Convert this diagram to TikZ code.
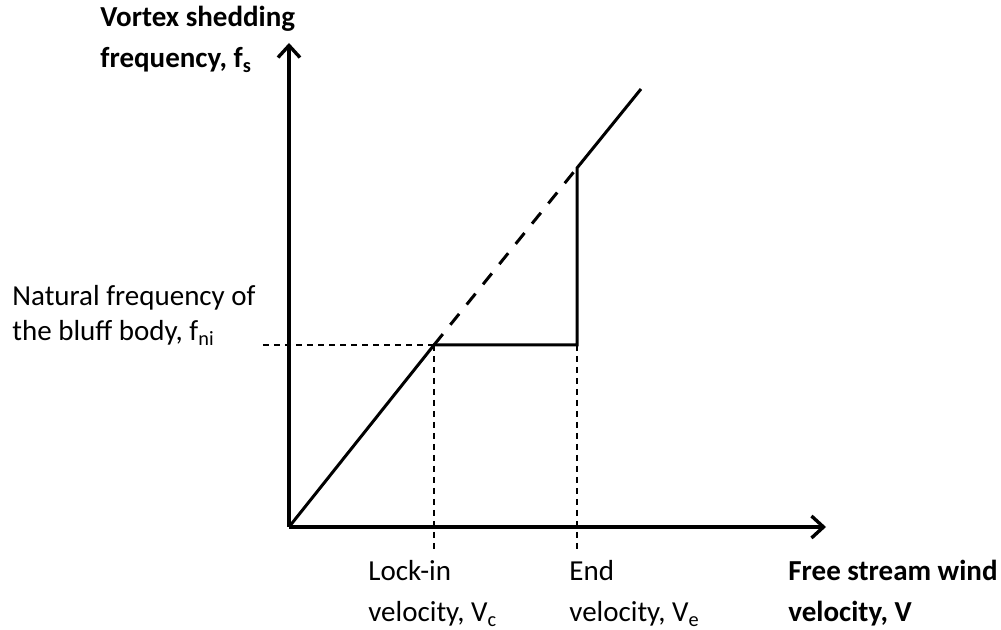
\documentclass[tikz,border=0pt]{standalone}
\usepackage{fontspec}
\setmainfont{Carlito}
\usetikzlibrary{arrows.meta}

\tikzset{
  axis/.style={line width=1.7pt,-{Straight Barb[length=6pt,width=11pt]}},
  curve/.style={line width=1.5pt,line join=miter},
  guide/.style={line width=0.7pt,dash pattern=on 3pt off 2.5pt},
  label/.style={anchor=base west,align=left,inner sep=0pt,
    font=\fontsize{14.5}{20.5}\selectfont},
  boldlabel/.style={label,font=\fontsize{14.5}{20.5}\selectfont\bfseries}
}

\begin{document}
\begin{tikzpicture}[x=0.5pt,y=0.5pt]
\useasboundingbox[fill=white] (-289,-103) rectangle (712,527);

\coordinate (O) at (0,0);
\coordinate (ytip) at (0,484);
\coordinate (xtip) at (537,0);
\coordinate (lockin) at (145,182);
\coordinate (endv) at (288,182);
\coordinate (jump) at (288,359);
\coordinate (top) at (352,438);
\coordinate (fni) at (-26,182);
\coordinate (vc) at (145,-25);
\coordinate (ve) at (288,-25);

\draw[guide] (fni) -- (lockin);
\draw[guide] (lockin) -- (vc);
\draw[guide] (endv) -- (ve);

\draw[axis] (O) -- (ytip);
\draw[axis] (O) -- (xtip);

\draw[curve] (O) -- (lockin) -- (endv) -- (jump) -- (top);
\draw[curve,dash pattern=on 7pt off 6pt] (lockin) -- (jump);

\node[boldlabel] (ylabel) at (-189,459) {Vortex shedding\\frequency, f\textsubscript{s}};
\node[label,font=\fontsize{14.5}{17.5}\selectfont] (natlabel) at (-277,186) {Natural frequency of\\the bluff body, f\textsubscript{ni}};
\node[label] (vclabel) at (79,-95) {Lock-in\\velocity, V\textsubscript{c}};
\node[label] (velabel) at (280,-95) {End\\velocity, V\textsubscript{e}};
\node[boldlabel] (xlabel) at (499,-95) {Free stream wind\\velocity, V};
\end{tikzpicture}
\end{document}
